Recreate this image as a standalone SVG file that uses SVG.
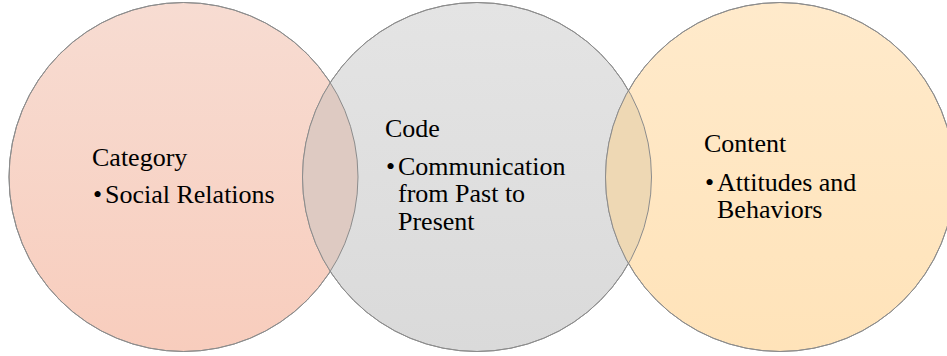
<svg xmlns="http://www.w3.org/2000/svg" width="947" height="356" viewBox="0 0 947 356">
<defs>
<linearGradient id="gL" x1="0" y1="0" x2="0" y2="1"><stop offset="0" stop-color="#F7DCD2"/><stop offset="1" stop-color="#F8CDBD"/></linearGradient>
<linearGradient id="gM" x1="0" y1="0" x2="0" y2="1"><stop offset="0" stop-color="#E4E4E4"/><stop offset="1" stop-color="#DADADA"/></linearGradient>
<linearGradient id="gR" x1="0" y1="0" x2="0" y2="1"><stop offset="0" stop-color="#FFEACB"/><stop offset="1" stop-color="#FFE3B9"/></linearGradient>
<clipPath id="cL"><circle cx="183.5" cy="177" r="174.5"/></clipPath>
<clipPath id="cR"><circle cx="780" cy="177" r="174.5"/></clipPath>
<style>
.c{stroke:#8C8C8C;stroke-width:1;}
.o{stroke:none;}
</style>
</defs>
<g id="node-category">
<circle class="c" cx="183.5" cy="177" r="174.5" fill="url(#gL)"/>
</g>
<g id="node-code">
<circle class="c" cx="477" cy="177" r="174.5" fill="url(#gM)"/>
<circle class="o" cx="477" cy="177" r="174.5" fill="#DECAC2" clip-path="url(#cL)"/>
</g>
<g id="node-content">
<circle class="c" cx="780" cy="177" r="174.5" fill="url(#gR)"/>
<circle class="o" cx="477" cy="177" r="174.5" fill="#EED8B4" clip-path="url(#cR)"/>
</g>
<g id="outlines" fill="none">
<circle class="c" cx="183.5" cy="177" r="174.5"/>
<circle class="c" cx="477" cy="177" r="174.5"/>
<circle class="c" cx="780" cy="177" r="174.5"/>
</g>
<g id="labels" font-family="'Liberation Serif', 'Times New Roman', serif" font-size="26" fill="#000">
<text x="92" y="166">Category</text>
<text x="93" y="203">•</text><text x="105" y="203">Social Relations</text>
<text x="385" y="137">Code</text>
<text x="386" y="175">•</text><text x="398" y="175">Communication</text>
<text x="398" y="202">from Past to</text>
<text x="398" y="230">Present</text>
<text x="704" y="152">Content</text>
<text x="705" y="191">•</text><text x="717" y="191">Attitudes and</text>
<text x="717" y="218">Behaviors</text>
</g>
</svg>
